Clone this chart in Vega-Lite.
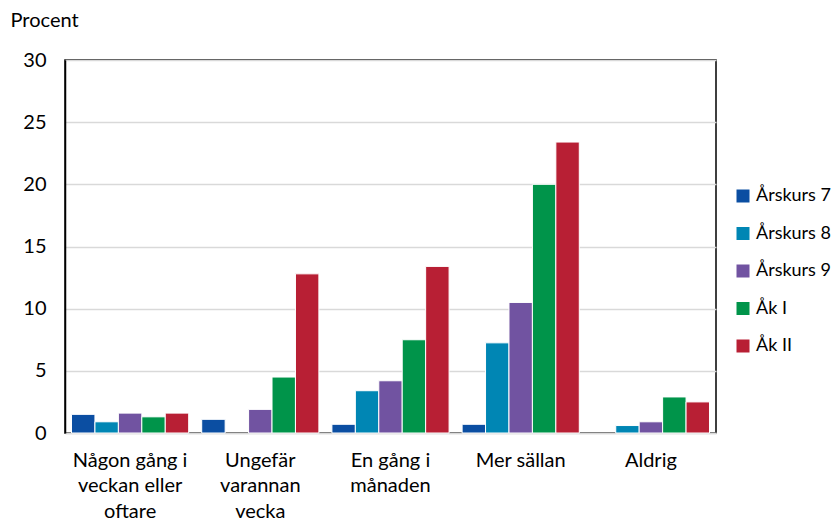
{
  "$schema": "https://vega.github.io/schema/vega-lite/v6.json",
  "width": 651,
  "height": 373,
  "autosize": {"type": "none"},
  "padding": {"left": 65, "top": 60, "right": 121, "bottom": 89},
  "background": "white",
  "config": {
    "font": "Lato",
    "view": {"stroke": "black", "strokeWidth": 1.5}
  },
  "data": {
    "values": [
      {"kategori": "Någon gång i|veckan eller|oftare", "grupp": "Årskurs 7", "procent": 1.5},
      {"kategori": "Någon gång i|veckan eller|oftare", "grupp": "Årskurs 8", "procent": 0.9},
      {"kategori": "Någon gång i|veckan eller|oftare", "grupp": "Årskurs 9", "procent": 1.6},
      {"kategori": "Någon gång i|veckan eller|oftare", "grupp": "Åk I", "procent": 1.3},
      {"kategori": "Någon gång i|veckan eller|oftare", "grupp": "Åk II", "procent": 1.6},
      {"kategori": "Ungefär|varannan|vecka", "grupp": "Årskurs 7", "procent": 1.1},
      {"kategori": "Ungefär|varannan|vecka", "grupp": "Årskurs 9", "procent": 1.9},
      {"kategori": "Ungefär|varannan|vecka", "grupp": "Åk I", "procent": 4.5},
      {"kategori": "Ungefär|varannan|vecka", "grupp": "Åk II", "procent": 12.8},
      {"kategori": "En gång i|månaden", "grupp": "Årskurs 7", "procent": 0.7},
      {"kategori": "En gång i|månaden", "grupp": "Årskurs 8", "procent": 3.4},
      {"kategori": "En gång i|månaden", "grupp": "Årskurs 9", "procent": 4.2},
      {"kategori": "En gång i|månaden", "grupp": "Åk I", "procent": 7.5},
      {"kategori": "En gång i|månaden", "grupp": "Åk II", "procent": 13.4},
      {"kategori": "Mer sällan", "grupp": "Årskurs 7", "procent": 0.7},
      {"kategori": "Mer sällan", "grupp": "Årskurs 8", "procent": 7.25},
      {"kategori": "Mer sällan", "grupp": "Årskurs 9", "procent": 10.5},
      {"kategori": "Mer sällan", "grupp": "Åk I", "procent": 20.0},
      {"kategori": "Mer sällan", "grupp": "Åk II", "procent": 23.4},
      {"kategori": "Aldrig", "grupp": "Årskurs 8", "procent": 0.6},
      {"kategori": "Aldrig", "grupp": "Årskurs 9", "procent": 0.9},
      {"kategori": "Aldrig", "grupp": "Åk I", "procent": 2.9},
      {"kategori": "Aldrig", "grupp": "Åk II", "procent": 2.5}
    ]
  },
  "mark": {"type": "bar", "stroke": "white", "strokeWidth": 1},
  "encoding": {
    "x": {
      "field": "kategori",
      "type": "nominal",
      "sort": null,
      "scale": {"paddingInner": 0.1, "paddingOuter": 0.05},
      "axis": {
        "title": null,
        "labelAngle": 0,
        "labelExpr": "split(datum.label, '|')",
        "labelFontSize": 20,
        "labelLineHeight": 25.5,
        "labelColor": "black",
        "labelPadding": 17,
        "ticks": false,
        "domainColor": "#d9d9d9",
        "domainWidth": 1.5
      }
    },
    "xOffset": {
      "field": "grupp",
      "type": "nominal",
      "scale": {"domain": ["Årskurs 7", "Årskurs 8", "Årskurs 9", "Åk I", "Åk II"], "paddingInner": 0, "paddingOuter": 0}
    },
    "y": {
      "field": "procent",
      "type": "quantitative",
      "scale": {"domain": [0, 30]},
      "axis": {
        "values": [0, 5, 10, 15, 20, 25, 30],
        "title": "Procent",
        "titleAngle": 0,
        "titleAlign": "left",
        "titleBaseline": "middle",
        "titleX": -55,
        "titleY": -40,
        "titleFontSize": 20,
        "titleFontWeight": "normal",
        "titleColor": "black",
        "labelFontSize": 20,
        "labelColor": "black",
        "labelPadding": 19,
        "ticks": false,
        "domainColor": "black",
        "domainWidth": 1.5,
        "gridColor": "#d9d9d9",
        "gridWidth": 1.5
      }
    },
    "color": {
      "field": "grupp",
      "type": "nominal",
      "scale": {
        "domain": ["Årskurs 7", "Årskurs 8", "Årskurs 9", "Åk I", "Åk II"],
        "range": ["#0B4EA2", "#0086B4", "#7153A1", "#00944A", "#B81F34"]
      },
      "legend": {
        "title": null,
        "orient": "none",
        "legendX": 669,
        "legendY": 127,
        "symbolType": "square",
        "symbolSize": 169,
        "symbolStrokeWidth": 0,
        "labelFontSize": 18,
        "labelColor": "black",
        "rowPadding": 19.5,
        "labelOffset": 4
      }
    }
  }
}
